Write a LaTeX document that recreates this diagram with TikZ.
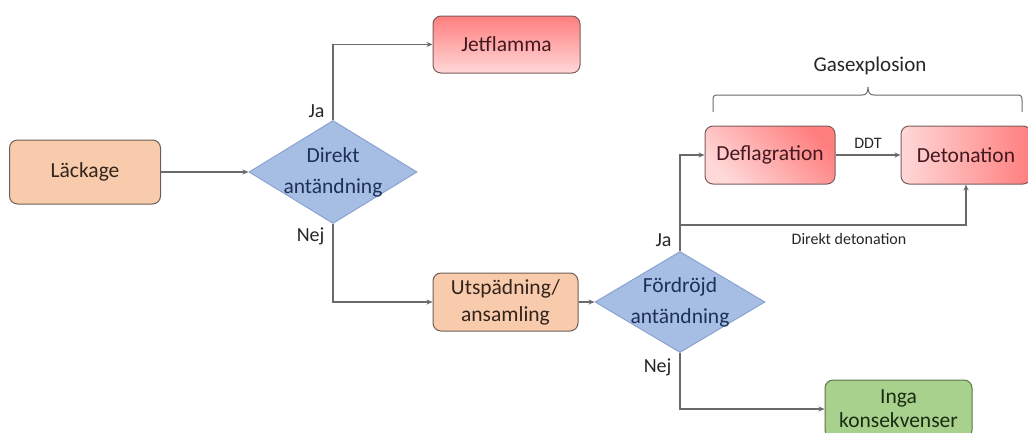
\documentclass[tikz,border=0pt]{standalone}
\usepackage{fontspec}
\setmainfont{Carlito}
\usetikzlibrary{shapes.geometric,arrows.meta}

\definecolor{lineg}{HTML}{6A6A6A}
\definecolor{peach}{HTML}{F8CBAD}
\definecolor{peachb}{HTML}{6E5E55}
\definecolor{peacht}{HTML}{33241C}
\definecolor{redhi}{HTML}{FF7E7E}
\definecolor{redlo}{HTML}{FFD8D8}
\definecolor{redb}{HTML}{7E5C5C}
\definecolor{redt}{HTML}{43181E}
\definecolor{bluef}{HTML}{A7BEE4}
\definecolor{blueb}{HTML}{8AA3CF}
\definecolor{bluet}{HTML}{1C3058}
\definecolor{greenf}{HTML}{A9D18E}
\definecolor{greenb}{HTML}{5A7844}
\definecolor{greent}{HTML}{1A2C10}

\tikzset{
  box/.style={rounded corners=8pt, line width=1pt, align=center, inner sep=0pt,
    font=\fontsize{21.5}{27}\selectfont},
  peachbox/.style={box, fill=peach, draw=peachb, text=peacht},
  redbox/.style={box, draw=redb, text=redt, top color=redhi, bottom color=redlo},
  greenbox/.style={box, fill=greenf, draw=greenb, text=greent},
  decision/.style={diamond, aspect=1, inner sep=0pt, fill=bluef, draw=blueb, line width=1pt},
  dectext/.style={align=center, text=bluet, font=\fontsize{21.5}{31}\selectfont},
  flow/.style={draw=lineg, line width=1.2pt, -{Stealth[length=6pt,width=5pt]}},
  plain/.style={draw=lineg, line width=1.2pt},
  answer/.style={font=\fontsize{20}{22}\selectfont, text=black!85},
  small/.style={font=\fontsize{16}{18}\selectfont, text=black!85},
}

\begin{document}
\begin{tikzpicture}[x=1pt,y=-1pt]
\useasboundingbox (0,0) rectangle (1028,432);

% process boxes
\node[peachbox, minimum width=151pt, minimum height=64pt] (leak) at (85,172) {Läckage};
\node[redbox, minimum width=147pt, minimum height=57pt] (jet) at (506.5,44.5) {Jetflamma};
\node[peachbox, minimum width=145pt, minimum height=58pt] (dil) at (505.5,302) {Utspädning/\\ansamling};
\node[redbox, shading angle=-45, minimum width=130pt, minimum height=58pt] (defl) at (770,155) {Deflagration};
\node[redbox, shading angle=-90, minimum width=130pt, minimum height=58pt] (deto) at (966,155) {Detonation};
\node[greenbox, minimum width=147pt, minimum height=58pt, font=\fontsize{21.5}{24}\selectfont] (none) at (898.5,409) {Inga\\konsekvenser};

% decisions
\node[decision, minimum width=168pt, minimum height=103pt,
  label={[dectext]center:Direkt\\antändning}] (d1) at (333,172) {};
\node[decision, minimum width=170pt, minimum height=101pt,
  label={[dectext]center:Fördröjd\\antändning}] (d2) at (680,302) {};

% connectors
\draw[flow] (leak.east) -- (d1.west);
\draw[flow] (d1.north) |- (jet.west);
\draw[flow] (d1.south) |- (dil.west);
\draw[flow] (dil.east) -- (d2.west);
\draw[flow] (d2.north) |- (defl.west);
\coordinate (split) at (680,225);
\draw[flow] (split) -| (deto.south);
\draw[flow] (defl.east) -- node[small, above=3pt] {DDT} (deto.west);
\draw[flow] (d2.south) |- (none.west);

% branch labels
\node[answer, anchor=east] (ja1) at (328,111) {Ja};
\node[answer, anchor=east] (nej1) at (328,236) {Nej};
\node[answer, anchor=east] (ja2) at (675,240) {Ja};
\node[answer, anchor=east] (nej2) at (675,367) {Nej};
\node[small] (dd) at (849,239) {Direkt detonation};

% grouping brace
\draw[plain, line width=1pt] (713,112) -- (713,100) .. controls (713,96) and (714,95) .. (718,95)
  -- (862,95) .. controls (866,95) and (868,93) .. (868,87)
  .. controls (868,93) and (870,95) .. (874,95)
  -- (1017,95) .. controls (1021,95) and (1022,96) .. (1022,100) -- (1022,112);
\node[font=\fontsize{21}{24}\selectfont, text=black!85] (gas) at (870,66) {Gasexplosion};
\end{tikzpicture}
\end{document}
